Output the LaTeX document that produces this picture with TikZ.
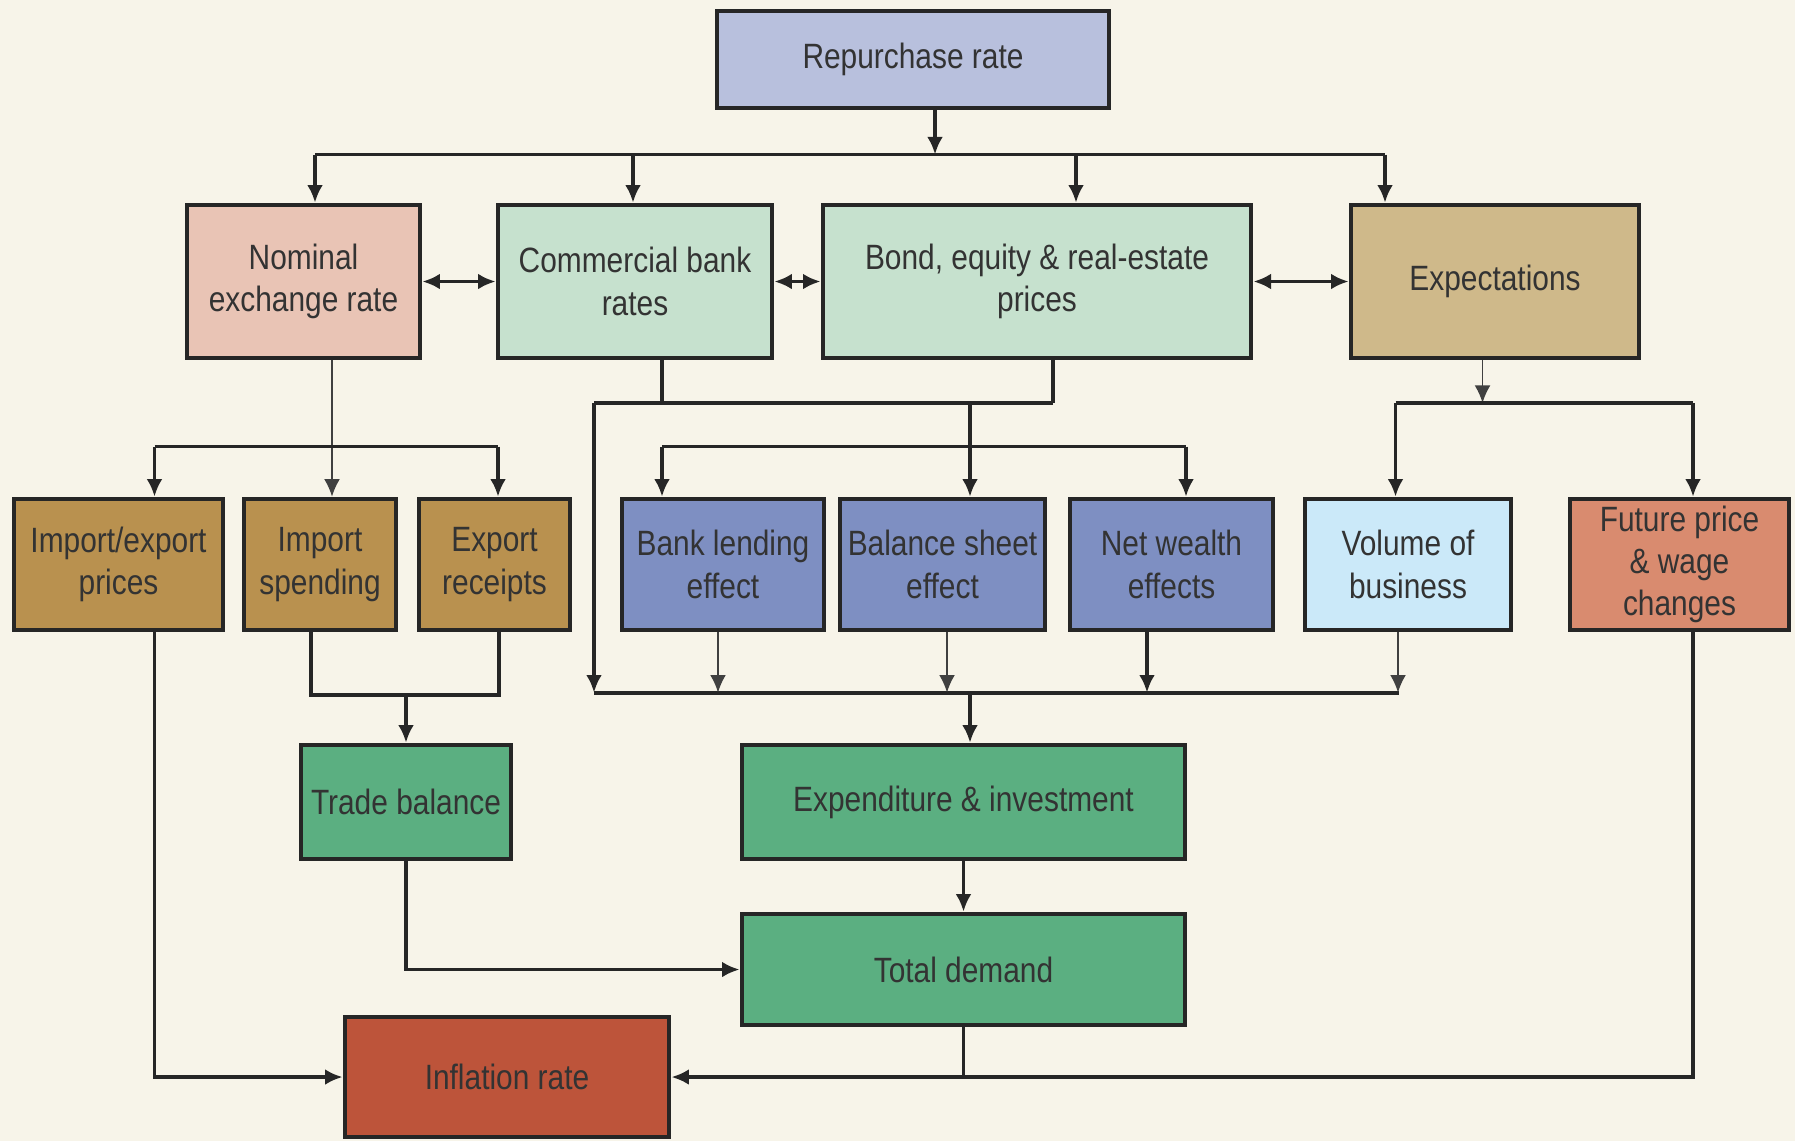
\documentclass[tikz,border=0pt]{standalone}
\usepackage{fontspec}
\setmainfont{Liberation Sans}[FakeStretch=0.85]
\usetikzlibrary{arrows.meta}

\definecolor{bgcream}{HTML}{F7F4E9}
\definecolor{repcol}{HTML}{B8C0DD}
\definecolor{nomcol}{HTML}{E9C4B5}
\definecolor{ratecol}{HTML}{C6E1CE}
\definecolor{expcol}{HTML}{CFB98A}
\definecolor{tradecol}{HTML}{B9914F}
\definecolor{effcol}{HTML}{7E8FC2}
\definecolor{volcol}{HTML}{CBE9F9}
\definecolor{futcol}{HTML}{D98B6F}
\definecolor{demcol}{HTML}{5BAF81}
\definecolor{inflcol}{HTML}{BD543A}

\begin{document}
\begin{tikzpicture}[x=0.01cm,y=-0.01cm,
    box/.style={draw=black!85,line width=1.3pt,align=center,inner sep=1pt,
      font=\fontsize{10}{12}\selectfont,text=black!80},
    link/.style={line width=1.1pt,draw=black!85},
    thinlink/.style={line width=0.5pt,draw=black!75},
    tip/.style={-{Latex[length=5pt,width=4.5pt]}},
    both/.style={{Latex[length=5pt,width=4.5pt]}-{Latex[length=5pt,width=4.5pt]}}]

  \fill[bgcream] (0,0) rectangle (1795,1141);

  \node[box,fill=repcol,minimum width=3.92cm,minimum height=0.97cm] (rep) at (913,59.5) {Repurchase rate};

  \node[box,fill=nomcol,minimum width=2.33cm,minimum height=1.53cm] (nom) at (303.5,281.5) {Nominal\\exchange rate};
  \node[box,fill=ratecol,minimum width=2.74cm,minimum height=1.53cm] (com) at (635,281.5) {Commercial bank\\rates};
  \node[box,fill=ratecol,minimum width=4.28cm,minimum height=1.53cm] (bond) at (1037,281.5) {Bond, equity \& real-estate\\prices};
  \node[box,fill=expcol,minimum width=2.88cm,minimum height=1.53cm] (expt) at (1495,281.5) {Expectations};

  \node[box,fill=tradecol,minimum width=2.09cm,minimum height=1.31cm] (iep) at (118.5,564.5) {Import/export\\prices};
  \node[box,fill=tradecol,minimum width=1.52cm,minimum height=1.31cm] (isp) at (320,564.5) {Import\\spending};
  \node[box,fill=tradecol,minimum width=1.51cm,minimum height=1.31cm] (erc) at (494.5,564.5) {Export\\receipts};
  \node[box,fill=effcol,minimum width=2.02cm,minimum height=1.31cm] (blend) at (723,564.5) {Bank lending\\effect};
  \node[box,fill=effcol,minimum width=2.05cm,minimum height=1.31cm] (bsheet) at (942.5,564.5) {Balance sheet\\effect};
  \node[box,fill=effcol,minimum width=2.03cm,minimum height=1.31cm] (nwealth) at (1171.5,564.5) {Net wealth\\effects};
  \node[box,fill=volcol,minimum width=2.06cm,minimum height=1.31cm] (vol) at (1408,564.5) {Volume of\\business};
  \node[box,fill=futcol,minimum width=2.19cm,minimum height=1.31cm] (fut) at (1679.5,564.5) {Future price\\\& wage\\changes};

  \node[box,fill=demcol,minimum width=2.10cm,minimum height=1.14cm] (trade) at (406,802) {Trade balance};
  \node[box,fill=demcol,minimum width=4.43cm,minimum height=1.14cm] (expend) at (963.5,802) {Expenditure \& investment};
  \node[box,fill=demcol,minimum width=4.43cm,minimum height=1.11cm] (total) at (963.5,969.5) {Total demand};
  \node[box,fill=inflcol,minimum width=3.24cm,minimum height=1.20cm] (infl) at (507,1077) {Inflation rate};

  % repurchase rate to the first row
  \coordinate (t0) at (935,154.5);
  \coordinate (t1) at (315,154.5);
  \coordinate (t2) at (633,154.5);
  \coordinate (t3) at (1076,154.5);
  \coordinate (t4) at (1385,154.5);
  \draw[link,tip] (rep.south -| t0) -- (t0);
  \draw[link] (t1) -- (t4);
  \foreach \n/\c in {t1/nom,t2/com,t3/bond,t4/expt}
    \draw[link,tip] (\n) -- (\n |- \c.north);

  \draw[link,both] (nom) -- (com);
  \draw[link,both] (com) -- (bond);
  \draw[link,both] (bond) -- (expt);

  % exchange rate channel
  \coordinate (n1) at (332,446.5);
  \coordinate (i1) at (154.5,446.5);
  \coordinate (i2) at (498,446.5);
  \draw[thinlink,tip] (nom.south -| n1) -- (n1 |- isp.north);
  \draw[link] (i1) -- (i2);
  \draw[link,tip] (i1) -- (i1 |- iep.north);
  \draw[link,tip] (i2) -- (i2 |- erc.north);

  % interest rate and asset price channels
  \coordinate (c0) at (594,403);
  \coordinate (c1) at (662,403);
  \coordinate (c2) at (1053,403);
  \coordinate (c3) at (970,403);
  \coordinate (e0) at (594,692.6);
  \draw[link] (com.south -| c1) -- (c1);
  \draw[link] (bond.south -| c2) -- (c2);
  \draw[link] (c0) -- (c2);
  \draw[link,tip] (c0) -- (e0);
  \draw[link,tip] (c3) -- (c3 |- bsheet.north);
  \coordinate (b1) at (662,446.5);
  \coordinate (b2) at (1186,446.5);
  \draw[link] (b1) -- (b2);
  \draw[link,tip] (b1) -- (b1 |- blend.north);
  \draw[link,tip] (b2) -- (b2 |- nwealth.north);

  % expectations channel
  \coordinate (x0) at (1482.5,403);
  \coordinate (x1) at (1395.5,403);
  \coordinate (x2) at (1693,403);
  \draw[thinlink,tip] (expt.south -| x0) -- (x0);
  \draw[link] (x1) -- (x2);
  \draw[link,tip] (x1) -- (x1 |- vol.north);
  \draw[link,tip] (x2) -- (x2 |- fut.north);

  % into expenditure
  \coordinate (e1) at (1399,692.6);
  \coordinate (e2) at (970,692.6);
  \draw[link] (e0) -- (e1);
  \draw[thinlink,tip] ([xshift=-0.05cm]blend.south) -- ([xshift=-0.05cm]blend.south |- e0);
  \draw[thinlink,tip] ([xshift=0.045cm]bsheet.south) -- ([xshift=0.045cm]bsheet.south |- e0);
  \draw[link,tip] ([xshift=-0.245cm]nwealth.south) -- ([xshift=-0.245cm]nwealth.south |- e0);
  \draw[thinlink,tip] ([xshift=-0.1cm]vol.south) -- ([xshift=-0.1cm]vol.south |- e0);
  \draw[link,tip] (e2) -- (e2 |- expend.north);

  % trade balance
  \coordinate (d1) at (311,695);
  \coordinate (d2) at (499,695);
  \coordinate (d3) at (406,695);
  \draw[link] (isp.south -| d1) -- (d1) -- (d2) -- (erc.south -| d2);
  \draw[link,tip] (d3) -- (d3 |- trade.north);
  \draw[link,tip] (trade.south) |- (total.west);
  \draw[link,tip] (expend.south) -- (total.north);

  % inflation
  \draw[link] (total.south) -- (total.south |- infl.east);
  \draw[link,tip] (iep.south -| i1) |- (infl.west);
  \draw[link,tip] (fut.south -| x2) |- (infl.east);
\end{tikzpicture}
\end{document}
